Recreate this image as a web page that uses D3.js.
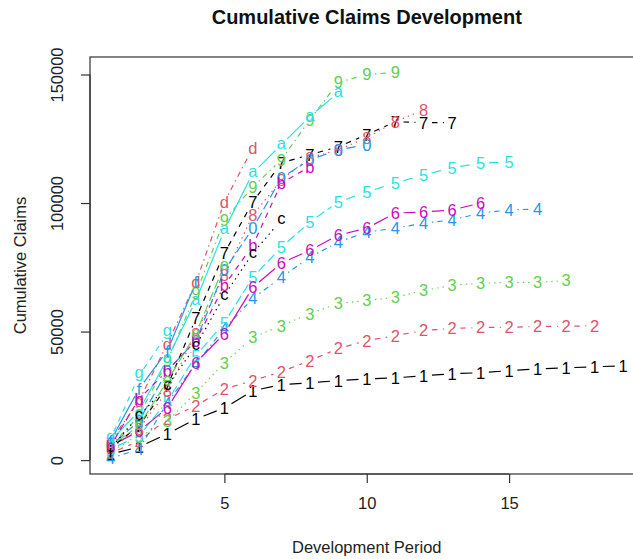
<!DOCTYPE html>
<html>
<head>
<meta charset="utf-8">
<script src="https://cdn.jsdelivr.net/npm/d3@7"></script>
<style>
  body { margin: 0; background: #fff; }
  svg { display: block; font-family: "Liberation Sans", Arial, sans-serif; }
</style>
</head>
<body>
<svg id="chart" width="633" height="559"></svg>
<script>
// cumulative claims by origin year (rows of the triangle), development periods 1..n
const ay01 = [2300, 5100, 10200, 16000, 20300, 27000, 29300, 30100, 30900, 31600, 32000, 32800, 33600, 34000, 34800, 35500, 35900, 36300, 36700];
const ay02 = [2700, 7400, 16000, 21100, 27700, 30900, 34400, 38700, 43400, 46500, 48400, 50400, 51200, 51600, 51600, 52000, 52000, 52300];
const ay03 = [3500, 9000, 15200, 26200, 37900, 47700, 52300, 57000, 60900, 62100, 63300, 66000, 68000, 68800, 69100, 69100, 69900];
const ay04 = [600, 4300, 22300, 37500, 51200, 62900, 71100, 78900, 84800, 88700, 90200, 92200, 93400, 96100, 97300, 97700];
const ay05 = [4300, 9400, 23000, 40600, 53500, 71100, 82800, 92600, 100400, 104300, 107800, 110900, 113700, 115600, 116000];
const ay06 = [5500, 11300, 20300, 37900, 49200, 67200, 76600, 81600, 87500, 90200, 96100, 96500, 97300, 100000];
const ay07 = [4700, 13300, 28900, 55100, 80500, 100400, 115600, 118800, 121900, 126600, 131600, 131300, 131300];
const ay08 = [4700, 12100, 27000, 49200, 71900, 95300, 109000, 117600, 120700, 125400, 131600, 136300];
const ay09 = [5500, 17200, 38700, 64800, 93400, 106300, 116800, 132400, 146900, 150000, 150800];
const ay10 = [5500, 15200, 34800, 46500, 73800, 90200, 109800, 116800, 120700, 122700];
const ay11 = [7400, 19100, 39500, 62100, 89500, 111700, 122700, 133600, 143000];
const ay12 = [5500, 23800, 34800, 46500, 68000, 83600, 107800, 114100];
const ay13 = [4700, 17200, 28900, 44500, 64100, 80500, 93400];
const ay14 = [7400, 23000, 45300, 69100, 100400, 121500];
const ay15 = [5500, 13300, 30900, 49200, 75800];
const ay16 = [7400, 27700, 42600, 69100];
const ay17 = [8200, 32800, 49200];
const ay18 = [5500, 23800];
const ay19 = [3500];

const triangle = [ay01, ay02, ay03, ay04, ay05, ay06, ay07, ay08, ay09, ay10,
                  ay11, ay12, ay13, ay14, ay15, ay16, ay17, ay18, ay19];

// matplot defaults: pch 1..9,0,a,b,...  col 1:6  lty 1:5
const symbols = ["1","2","3","4","5","6","7","8","9","0","a","b","c","d","e","f","g","h","i"];
const palette = ["#000000", "#DF536B", "#61D04F", "#2297E6", "#28E2E5", "#CD0BBC"];
const dashes = [null, "5.5,5.5", "1.4,4", "1.4,4,5.5,4", "9.5,4"];

const xTicks = [5, 10, 15];
const yTicks = [0, 50000, 100000, 150000];

const svg = d3.select("#chart");
const mLeft = 90, mRight = 643.5, mTop = 57, mBottom = 474;
const fs = 16.5;

// R style 4% axis extension
const nDev = d3.max(triangle, d => d.length);
const all = triangle.flat();
const yMin = d3.min(all), yMax = d3.max(all);
const xPad = (nDev - 1) * 0.04, yPad = (yMax - yMin) * 0.04;

const x = d3.scaleLinear().domain([1 - xPad, nDev + xPad]).range([mLeft, mRight]);
const y = d3.scaleLinear().domain([yMin - yPad, yMax + yPad]).range([mBottom, mTop]);

svg.append("defs").append("clipPath").attr("id", "plotclip")
  .append("rect").attr("x", mLeft).attr("y", mTop).attr("width", mRight - mLeft).attr("height", mBottom - mTop);

const plot = svg.append("g").attr("clip-path", "url(#plotclip)");

// vertical centring of each glyph (fraction of font size added to baseline)
function glyphShift(ch) {
  if ("aceo".includes(ch)) return 0.27;
  if (ch == "g") return 0.16;
  return 0.36;
}

const gap = 0.5 * fs;

triangle.forEach((row, i) => {
  const col = palette[i % 6];
  const dash = dashes[i % 5];
  const pts = row.map((v, j) => [x(j + 1), y(v)]);
  const g = plot.append("g");

  for (let j = 0; j < pts.length - 1; j++) {
    const [x1, y1] = pts[j], [x2, y2] = pts[j + 1];
    const d = Math.hypot(x2 - x1, y2 - y1);
    if (d <= 2 * gap) continue;
    const f = gap / d;
    g.append("line")
      .attr("x1", x1 + f * (x2 - x1)).attr("y1", y1 + f * (y2 - y1))
      .attr("x2", x2 - f * (x2 - x1)).attr("y2", y2 - f * (y2 - y1))
      .attr("stroke", col)
      .attr("stroke-width", 1.2)
      .attr("stroke-dasharray", dash);
  }

  g.selectAll("text")
    .data(pts)
    .join("text")
    .attr("x", d => d[0])
    .attr("y", d => d[1] + glyphShift(symbols[i]) * fs)
    .attr("text-anchor", "middle")
    .attr("font-size", fs)
    .attr("fill", col)
    .text(symbols[i]);
});

// box
svg.append("rect")
  .attr("x", mLeft).attr("y", mTop)
  .attr("width", mRight - mLeft).attr("height", mBottom - mTop)
  .attr("fill", "none").attr("stroke", "#333").attr("stroke-width", 1.2);

// x axis
const xAxis = svg.append("g").attr("transform", `translate(0,${mBottom})`)
  .call(d3.axisBottom(x).tickValues(xTicks).tickSize(9).tickPadding(14).tickSizeOuter(0));
xAxis.select(".domain").attr("d", `M${x(xTicks[0])},0H${x(xTicks[xTicks.length - 1])}`);

// y axis
const yAxis = svg.append("g").attr("transform", `translate(${mLeft},0)`)
  .call(d3.axisLeft(y).tickValues(yTicks).tickSize(9).tickFormat(d3.format("d")).tickSizeOuter(0));
yAxis.select(".domain").attr("d", `M0,${y(yTicks[0])}V${y(yTicks[yTicks.length - 1])}`);
yAxis.selectAll(".tick text")
  .attr("transform", "rotate(-90)")
  .attr("x", 0).attr("y", -27)
  .attr("dy", 0)
  .attr("text-anchor", "middle");

svg.selectAll(".domain, .tick line").attr("stroke", "#333").attr("stroke-width", 1.2);
svg.selectAll(".tick text").attr("font-size", fs).attr("fill", "#222")
  .attr("font-family", "Liberation Sans, Arial, sans-serif");

// titles
svg.append("text")
  .attr("x", (mLeft + mRight) / 2).attr("y", 24)
  .attr("text-anchor", "middle")
  .attr("font-size", 20).attr("font-weight", "bold").attr("fill", "#111")
  .text("Cumulative Claims Development");

svg.append("text")
  .attr("x", (mLeft + mRight) / 2).attr("y", 553)
  .attr("text-anchor", "middle")
  .attr("font-size", fs).attr("fill", "#222")
  .text("Development Period");

svg.append("text")
  .attr("transform", `translate(26,${(mTop + mBottom) / 2}) rotate(-90)`)
  .attr("text-anchor", "middle")
  .attr("font-size", fs).attr("fill", "#222")
  .text("Cumulative Claims");
</script>
</body>
</html>
